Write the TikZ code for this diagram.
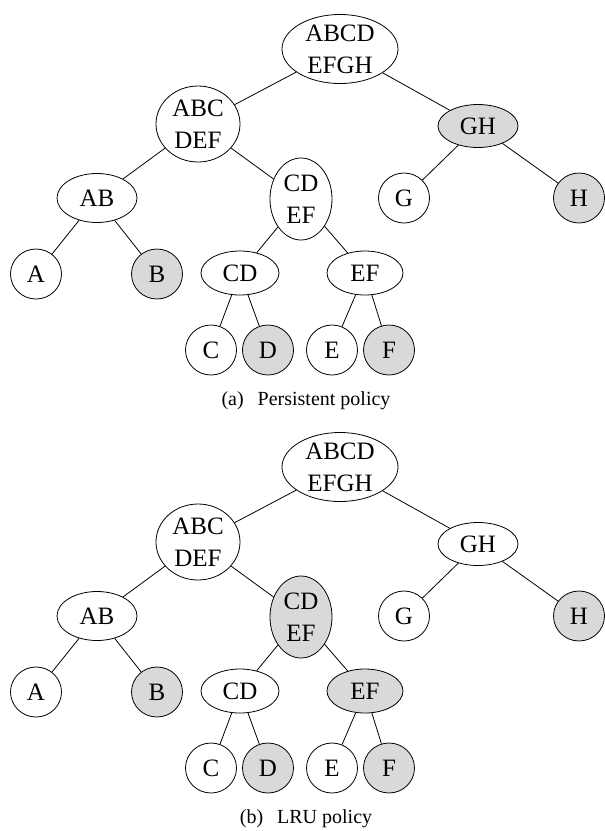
\documentclass[tikz,border=0pt]{standalone}
\usepackage{fontspec}
\setmainfont{Liberation Serif}
\usetikzlibrary{shapes.geometric}
\definecolor{nodegray}{RGB}{217,217,217}
\tikzset{
  every picture/.style={x=1pt,y=-1pt},
  tnode/.style={draw=black,line width=0.8pt,ellipse,inner sep=0pt,align=center,
    font=\fontsize{25}{32}\selectfont},
  leaf/.style={tnode,minimum width=51pt,minimum height=50pt},
  shaded/.style={fill=nodegray},
  plain/.style={fill=white},
  edge/.style={draw=black,line width=0.8pt},
  caption/.style={font=\fontsize{20}{24}\selectfont,inner sep=0pt}
}
\newcommand{\drawmytree}[5]{%
  \node[tnode,plain,minimum width=116pt,minimum height=68pt] (#1root) at (340,49) {ABCD\\EFGH};
  \node[tnode,plain,minimum width=84pt,minimum height=76pt] (#1abc) at (198,124) {ABC\\DEF};
  \node[tnode,#2,minimum width=80pt,minimum height=43pt] (#1gh) at (478,126) {GH};
  \node[tnode,plain,minimum width=80pt,minimum height=49pt] (#1ab) at (97,198) {AB};
  \node[tnode,#3,minimum width=62pt,minimum height=82pt] (#1cdef) at (301,199) {CD\\EF};
  \node[leaf,plain] (#1g) at (404,198) {G};
  \node[leaf,shaded] (#1h) at (579,198) {H};
  \node[leaf,plain] (#1a) at (36,274) {A};
  \node[leaf,shaded] (#1b) at (157,274) {B};
  \node[tnode,plain,minimum width=78pt,minimum height=44pt] (#1cd) at (240,273) {CD};
  \node[tnode,#4,minimum width=76pt,minimum height=44pt] (#1ef) at (365,273) {EF};
  \node[leaf,plain] (#1c) at (211,350) {C};
  \node[leaf,shaded] (#1d) at (268,350) {D};
  \node[leaf,plain] (#1e) at (332,350) {E};
  \node[leaf,shaded] (#1f) at (389,350) {F};
  \node[caption] (#1cap) at (306,401) {#5};
  \draw[edge] (#1root) -- (#1abc);
  \draw[edge] (#1root) -- (#1gh);
  \draw[edge] (#1abc) -- (#1ab);
  \draw[edge] (#1abc) -- (#1cdef);
  \draw[edge] (#1ab) -- (#1a);
  \draw[edge] (#1ab) -- (#1b);
  \draw[edge] (#1cdef) -- (#1cd);
  \draw[edge] (#1cdef) -- (#1ef);
  \draw[edge] (#1cd) -- (#1c);
  \draw[edge] (#1cd) -- (#1d);
  \draw[edge] (#1ef) -- (#1e);
  \draw[edge] (#1ef) -- (#1f);
  \draw[edge] (#1gh) -- (#1g);
  \draw[edge] (#1gh) -- (#1h);
}
\begin{document}
\begin{tikzpicture}
  \useasboundingbox (0,0) rectangle (605,831);
  \drawmytree{a}{shaded}{plain}{plain}{(a)\hspace{0.7em}Persistent policy}
  \begin{scope}[yshift=-418pt]
    \drawmytree{b}{plain}{shaded}{shaded}{(b)\hspace{0.7em}LRU policy}
  \end{scope}
\end{tikzpicture}
\end{document}
